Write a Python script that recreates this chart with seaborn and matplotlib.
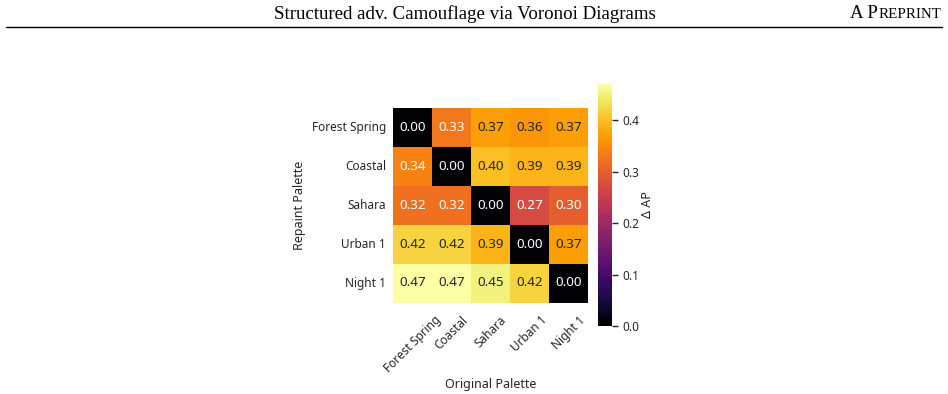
import numpy as np
import pandas as pd
import matplotlib
matplotlib.use('Agg')
import matplotlib.pyplot as plt
import seaborn as sns

# Palettes (rows: repaint, columns: original)
palettes = ['Forest Spring', 'Coastal', 'Sahara', 'Urban 1', 'Night 1']

forest_spring = [0.00, 0.33, 0.37, 0.36, 0.37]
coastal = [0.34, 0.00, 0.40, 0.39, 0.39]
sahara = [0.32, 0.32, 0.00, 0.27, 0.30]
urban_1 = [0.42, 0.42, 0.39, 0.00, 0.37]
night_1 = [0.47, 0.47, 0.45, 0.42, 0.00]

df = pd.DataFrame([forest_spring, coastal, sahara, urban_1, night_1],
                  index=palettes, columns=palettes)

sns.set_theme(style='white')
plt.rcParams['font.family'] = ['Noto Sans', 'DejaVu Sans']
plt.rcParams['text.color'] = '#262626'
plt.rcParams['axes.labelcolor'] = '#262626'
plt.rcParams['xtick.color'] = '#262626'
plt.rcParams['ytick.color'] = '#262626'

W, H = 948, 394
fig = plt.figure(figsize=(W / 100, H / 100), dpi=100)

# header of the paper page
fig.text(465 / W, 1 - 14 / H, 'Structured adv. Camouflage via Voronoi Diagrams',
         family='Liberation Serif', fontsize=13.6, color='black',
         ha='center', va='center')
r = fig.text(941 / W, 1 - 18 / H, 'REPRINT', family='Liberation Serif',
             fontsize=10.8, color='black', ha='right', va='baseline')
fig.canvas.draw()
bb = r.get_window_extent()
fig.text((bb.x0 - 0.5) / W, 1 - 18 / H, 'A P', family='Liberation Serif',
         fontsize=13.6, color='black', ha='right', va='baseline')
fig.add_artist(plt.Line2D([6 / W, 942 / W], [1 - 27 / H, 1 - 27 / H],
                          color='black', lw=1.0))

ax = fig.add_axes([393 / W, 68 / H, 195 / W, 242 / H])
cax = fig.add_axes([598 / W, 68 / H, 14 / W, 242 / H])

sns.heatmap(df, ax=ax, cbar_ax=cax, cmap='inferno', vmin=0, vmax=0.47,
            annot=True, fmt='.2f', square=True,
            annot_kws={'fontsize': 9.7},
            cbar_kws={'label': 'Δ AP'})

ax.set_xlabel('Original Palette', fontsize=9, labelpad=2)
ax.set_ylabel('Repaint Palette', fontsize=9)
ax.tick_params(axis='both', labelsize=8.5, length=0, pad=5)
ax.tick_params(axis='x', pad=8)
plt.setp(ax.get_xticklabels(), rotation=45, ha='center')
plt.setp(ax.get_yticklabels(), rotation=0)

cax.tick_params(labelsize=8.5, length=4, width=1, color='#262626')
cax.set_yticks([0.0, 0.1, 0.2, 0.3, 0.4])
cax.set_ylabel('Δ AP', fontsize=9, labelpad=1)

fig.savefig('out.png', dpi=100)
